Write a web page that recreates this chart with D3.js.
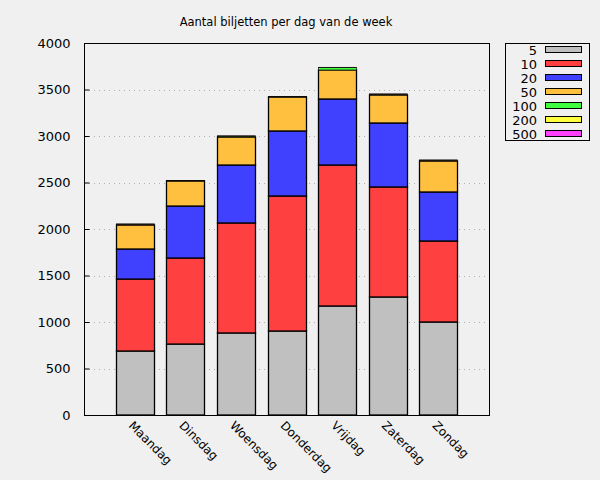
<!DOCTYPE html>
<html><head><meta charset="utf-8">
<script src="https://cdn.jsdelivr.net/npm/d3@7/dist/d3.min.js"></script>
<style>
body{margin:0;background:#f0f0f0;}
svg{display:block;font-family:"DejaVu Sans",sans-serif;}
</style></head><body>
<svg id="c" width="600" height="480"></svg>
<script>
const days = ["Maandag","Dinsdag","Woensdag","Donderdag","Vrijdag","Zaterdag","Zondag"];
const seriesNames = ["5","10","20","50","100","200","500"];
const colors = ["#c0c0c0","#ff4040","#4040ff","#ffc040","#40ff40","#ffff40","#ff40ff"];
const v5   = [688, 763, 882, 903, 1172, 1269, 1000];
const v10  = [774, 925, 1183, 1452, 1516, 1183, 871];
const v20  = [323, 559, 623, 699, 710, 688, 527];
const v50  = [258, 269, 301, 365, 312, 301, 333];
const v100 = [8, 4, 9, 5, 25, 8, 8];
const v200 = [2, 1, 2, 1, 3, 2, 2];
const v500 = [1, 1, 1, 1, 1, 1, 1];
const yTicks = [0,500,1000,1500,2000,2500,3000,3500,4000];
const title = "Aantal biljetten per dag van de week";

const allVals = [v5,v10,v20,v50,v100,v200,v500];
const data = days.map((d,i)=>{const o={day:d,idx:i}; seriesNames.forEach((s,j)=>o[s]=allVals[j][i]); return o;});
const stacked = d3.stack().keys(seriesNames)(data);

const svg = d3.select("#c");
const L=84,R=489,T=43,B=415;
svg.append("rect").attr("width",600).attr("height",480).attr("fill","#f0f0f0");
const x = d3.scaleLinear().domain([0,8]).range([L,R]);
const y = d3.scaleLinear().domain([0,4000]).range([B,T]);
const bw = (x(1)-x(0))*0.75;

// grid
svg.append("g").selectAll("line").data(yTicks.filter(t=>t>0&&t<4000)).join("line")
  .attr("x1",L).attr("x2",R).attr("y1",d=>Math.round(y(d))+0.5).attr("y2",d=>Math.round(y(d))+0.5)
  .attr("stroke","#b0b0b0").attr("stroke-width",1).attr("stroke-dasharray","1,4");

// bars
stacked.forEach((layer,j)=>{
  svg.append("g").selectAll("rect").data(layer).join("rect")
    .attr("x",(d,i)=>Math.round(x(i+1)-bw/2)+0.5)
    .attr("width",Math.round(bw))
    .attr("y",d=>y(d[1]))
    .attr("height",d=>y(d[0])-y(d[1]))
    .attr("fill",colors[j]).attr("stroke","#000").attr("stroke-width",j>=4?0.6:1.3);
});

// axis box
svg.append("rect").attr("x",L+0.5).attr("y",T+0.5).attr("width",R-L).attr("height",B-T)
  .attr("fill","none").attr("stroke","#000").attr("stroke-width",1);

// y axis
const ya = d3.axisLeft(y).tickValues(yTicks).tickSize(-5).tickPadding(14).tickFormat(d3.format("d"));
const yg = svg.append("g").attr("transform",`translate(${L+0.5},0)`).call(ya);
yg.select(".domain").remove();
yg.selectAll("text").attr("font-size",13).attr("fill","#000").attr("font-family","DejaVu Sans");
yg.selectAll("line").attr("stroke","#000");

// x labels
const xa = d3.axisBottom(x).tickValues(d3.range(1,8)).tickSize(0).tickFormat(d=>days[d-1]);
const xg = svg.append("g").attr("transform",`translate(0,${B})`).call(xa);
xg.select(".domain").remove();
xg.selectAll("text").attr("font-size",12).attr("fill","#000").attr("font-family","DejaVu Sans")
  .attr("text-anchor","start").attr("dy",null).attr("y",0)
  .attr("transform","translate(-1,5) rotate(45)").attr("dominant-baseline","hanging");

// title
svg.append("text").attr("x",286).attr("y",26).attr("text-anchor","middle")
  .attr("font-size",11.5).attr("fill","#000").text(title);

// legend
const lg = svg.append("g");
lg.append("rect").attr("x",505.5).attr("y",43.5).attr("width",84).attr("height",97)
  .attr("fill","none").attr("stroke","#000");
seriesNames.forEach((s,i)=>{
  const yy = 50 + i*14;
  lg.append("text").attr("x",537).attr("y",yy+4.5).attr("text-anchor","end")
    .attr("font-size",13).attr("fill","#000").text(s);
  lg.append("rect").attr("x",545.5).attr("y",yy-3.5).attr("width",36).attr("height",6)
    .attr("fill",colors[i]).attr("stroke","#000").attr("stroke-width",1);
});
</script>
</body></html>
